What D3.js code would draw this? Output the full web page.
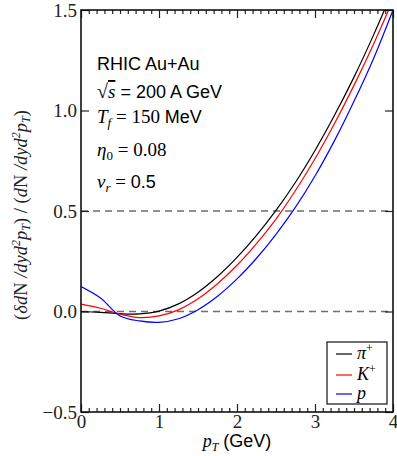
<!DOCTYPE html>
<html>
<head>
<meta charset="utf-8">
<script src="https://cdn.jsdelivr.net/npm/d3@7"></script>
<style>
  body { margin: 0; background: #fff; }
  svg { display: block; }
</style>
</head>
<body>
<svg id="chart"></svg>
<script>
'use strict';

const WIDTH = 397;
const HEIGHT = 456;
const LEFT = 81;
const RIGHT = 393;
const TOP = 10;
const BOTTOM = 412;

const SERIF = "'Liberation Serif', 'DejaVu Serif', serif";
const SANS = "'Liberation Sans', Arial, sans-serif";

// transverse momentum grid (GeV)
const PT = [0, 0.25, 0.5, 0.75, 1.0, 1.25, 1.5, 1.75, 2.0, 2.25, 2.5, 2.75, 3.0, 3.25, 3.5, 3.75, 4.0];
const PION = [0.0, -0.004, -0.011, -0.012, 0.002, 0.038, 0.096, 0.174, 0.269, 0.379, 0.503, 0.643, 0.801, 0.976, 1.166, 1.375, 1.60];
const KAON = [0.037, 0.016, -0.013, -0.03, -0.022, 0.008, 0.063, 0.138, 0.23, 0.338, 0.46, 0.602, 0.76, 0.935, 1.125, 1.33, 1.55];
const PROTON = [0.124, 0.067, -0.022, -0.047, -0.054, -0.036, 0.009, 0.076, 0.162, 0.265, 0.384, 0.519, 0.674, 0.85, 1.046, 1.258, 1.50];

const X_TICKS = [0, 1, 2, 3, 4];
const Y_TICKS = [-0.5, 0, 0.5, 1.0, 1.5];
const DASHED_AT = [0, 0.5];

const SERIES = [
    { name: "π", sup: "+", values: PION, color: "#000000" },
    { name: "K", sup: "+", values: KAON, color: "#ff0000" },
    { name: "p", sup: "", values: PROTON, color: "#0000ff" }
];

const svg = d3.select("svg#chart")
              .attr("width", WIDTH)
              .attr("height", HEIGHT);

const xScale = d3.scaleLinear()
                 .domain([0, 4])
                 .range([LEFT, RIGHT]);
const yScale = d3.scaleLinear()
                 .domain([-0.5, 1.5])
                 .range([BOTTOM, TOP]);

svg.append("clipPath")
   .attr("id", "plotClip")
   .append("rect")
   .attr("x", LEFT)
   .attr("y", TOP)
   .attr("width", RIGHT - LEFT)
   .attr("height", BOTTOM - TOP);

// dashed reference lines
svg.append("g")
   .selectAll("line")
   .data(DASHED_AT)
   .enter()
   .append("line")
   .attr("x1", LEFT)
   .attr("x2", RIGHT)
   .attr("y1", d => yScale(d))
   .attr("y2", d => yScale(d))
   .attr("stroke", "#6e6e6e")
   .attr("stroke-width", 1.6)
   .attr("stroke-dasharray", "7,5");

// curves
const line = d3.line()
               .x((d, i) => xScale(PT[i]))
               .y(d => yScale(d))
               .curve(d3.curveCatmullRom.alpha(0.5));

svg.append("g")
   .attr("clip-path", "url(#plotClip)")
   .selectAll("path")
   .data(SERIES)
   .enter()
   .append("path")
   .attr("fill", "none")
   .attr("stroke", d => d.color)
   .attr("stroke-width", 1.2)
   .attr("d", d => line(d.values));

// axes: inward ticks on all four sides
const minorX = d3.range(0, 41).map(i => i / 10).filter(v => !X_TICKS.includes(v));

const addAxis = (axis, tx, ty, cls) => {
    const g = svg.append("g")
                 .attr("data-type", cls)
                 .attr("transform", "translate(" + tx + "," + ty + ")")
                 .call(axis);
    g.select(".domain").remove();
    g.selectAll(".tick line").attr("stroke", "#222").attr("stroke-width", 1.2);
    return g;
};

const xBottom = addAxis(d3.axisBottom(xScale).tickValues(X_TICKS).tickSize(-8).tickPadding(2)
                          .tickFormat(d3.format("d")), 0, BOTTOM, "xAxis");
addAxis(d3.axisBottom(xScale).tickValues(minorX).tickSize(-4).tickFormat(""), 0, BOTTOM, "xMinor");
addAxis(d3.axisTop(xScale).tickValues(X_TICKS).tickSize(-8).tickFormat(""), 0, TOP, "xTop");
addAxis(d3.axisTop(xScale).tickValues(minorX).tickSize(-4).tickFormat(""), 0, TOP, "xTopMinor");
const yLeft = addAxis(d3.axisLeft(yScale).tickValues(Y_TICKS).tickSize(-8).tickPadding(4)
                        .tickFormat(d => d3.format(".1f")(d).replace("-", "\u2212")), LEFT, 0, "yAxis");
addAxis(d3.axisRight(yScale).tickValues(Y_TICKS).tickSize(-8).tickFormat(""), RIGHT, 0, "yRight");

xBottom.selectAll("text")
       .attr("font-family", SERIF)
       .attr("font-size", 19)
       .attr("fill", "#222");
yLeft.selectAll("text")
     .attr("font-family", SERIF)
     .attr("font-size", 19)
     .attr("fill", "#222");

// frame
svg.append("rect")
   .attr("x", LEFT)
   .attr("y", TOP)
   .attr("width", RIGHT - LEFT)
   .attr("height", BOTTOM - TOP)
   .attr("fill", "none")
   .attr("stroke", "#111")
   .attr("stroke-width", 1.6);

// x axis title
const xTitle = svg.append("text")
                  .attr("x", (LEFT + RIGHT) / 2)
                  .attr("y", 447)
                  .attr("text-anchor", "middle")
                  .attr("font-size", 18);
xTitle.append("tspan").attr("font-family", SERIF).attr("font-style", "italic").text("p");
xTitle.append("tspan").attr("font-family", SERIF).attr("font-style", "italic")
      .attr("font-size", 12).attr("dy", 4).text("T");
xTitle.append("tspan").attr("font-family", SANS).attr("dy", -4).text(" (GeV)");

// y axis title
const yTitle = svg.append("text")
                  .attr("transform", "translate(27," + 215 + ") rotate(-90)")
                  .attr("text-anchor", "middle")
                  .attr("font-family", SERIF)
                  .attr("font-size", 18.5)
                  .attr("font-style", "italic")
                  .attr("fill", "#222");
const fraction = (g, delta) => {
    g.append("tspan").attr("font-style", "normal").text("(");
    g.append("tspan").text(delta + "d");
    g.append("tspan").attr("font-style", "normal").text("N");
    g.append("tspan").text(" /dyd");
    g.append("tspan").attr("font-size", 12).attr("dy", -7).text("2");
    g.append("tspan").attr("dy", 7).text("p");
    g.append("tspan").attr("font-size", 12).attr("dy", 3).text("T");
    g.append("tspan").attr("font-style", "normal").attr("dy", -3).text(")");
};
fraction(yTitle, "\u03b4");
yTitle.append("tspan").attr("font-style", "normal").text(" / ");
fraction(yTitle, "");

// annotations
const NOTE_X = 97;
svg.append("text").attr("x", NOTE_X).attr("y", 70)
   .attr("font-family", SANS).attr("font-size", 18).text("RHIC Au+Au");

const note2 = svg.append("text").attr("x", NOTE_X).attr("y", 98).attr("font-size", 18);
note2.append("tspan").attr("font-family", SERIF).attr("font-size", 20).text("\u221a");
note2.append("tspan").attr("font-family", SERIF).attr("font-style", "italic")
     .attr("font-size", 19).attr("text-decoration", "overline").text("s");
note2.append("tspan").attr("font-family", SANS).text(" = 200 A GeV");

const note3 = svg.append("text").attr("x", NOTE_X).attr("y", 123).attr("font-size", 19);
note3.append("tspan").attr("font-family", SERIF).attr("font-style", "italic").text("T");
note3.append("tspan").attr("font-family", SERIF).attr("font-style", "italic")
     .attr("font-size", 13).attr("dy", 4).text("f");
note3.append("tspan").attr("font-family", SERIF).attr("dy", -4).text(" = 150 ");
note3.append("tspan").attr("font-family", SANS).attr("font-size", 18).text("MeV");

const note4 = svg.append("text").attr("x", NOTE_X).attr("y", 156).attr("font-size", 19)
                 .attr("font-family", SERIF);
note4.append("tspan").attr("font-style", "italic").text("\u03b7");
note4.append("tspan").attr("font-size", 13).attr("dy", 4).text("0");
note4.append("tspan").attr("dy", -4).text(" = 0.08");

const note5 = svg.append("text").attr("x", NOTE_X).attr("y", 188).attr("font-size", 19);
note5.append("tspan").attr("font-family", SERIF).attr("font-style", "italic").text("v");
note5.append("tspan").attr("font-family", SERIF).attr("font-style", "italic")
     .attr("font-size", 13).attr("dy", 4).text("r");
note5.append("tspan").attr("font-family", SERIF).attr("dy", -4).text(" = ");
note5.append("tspan").attr("font-family", SANS).attr("font-size", 18).text("0.5");

// legend
const legend = svg.append("g");
legend.append("rect")
      .attr("x", 327)
      .attr("y", 342)
      .attr("width", 60)
      .attr("height", 62)
      .attr("fill", "#fff")
      .attr("stroke", "#111")
      .attr("stroke-width", 1.2);

const LEGEND_Y = [354, 375, 394];
const items = legend.selectAll("g.item")
                    .data(SERIES)
                    .enter()
                    .append("g")
                    .attr("class", "item")
                    .attr("transform", (d, i) => "translate(0," + LEGEND_Y[i] + ")");
items.append("line")
     .attr("x1", 336)
     .attr("x2", 352)
     .attr("stroke", d => d.color)
     .attr("stroke-width", 1.2);
const labels = items.append("text")
                    .attr("x", 357)
                    .attr("y", 5)
                    .attr("font-family", SERIF)
                    .attr("font-style", "italic")
                    .attr("font-size", 18);
labels.append("tspan").text(d => d.name);
labels.append("tspan")
      .attr("font-style", "normal")
      .attr("font-size", 12)
      .attr("dy", -7)
      .text(d => d.sup);
</script>
</body>
</html>
